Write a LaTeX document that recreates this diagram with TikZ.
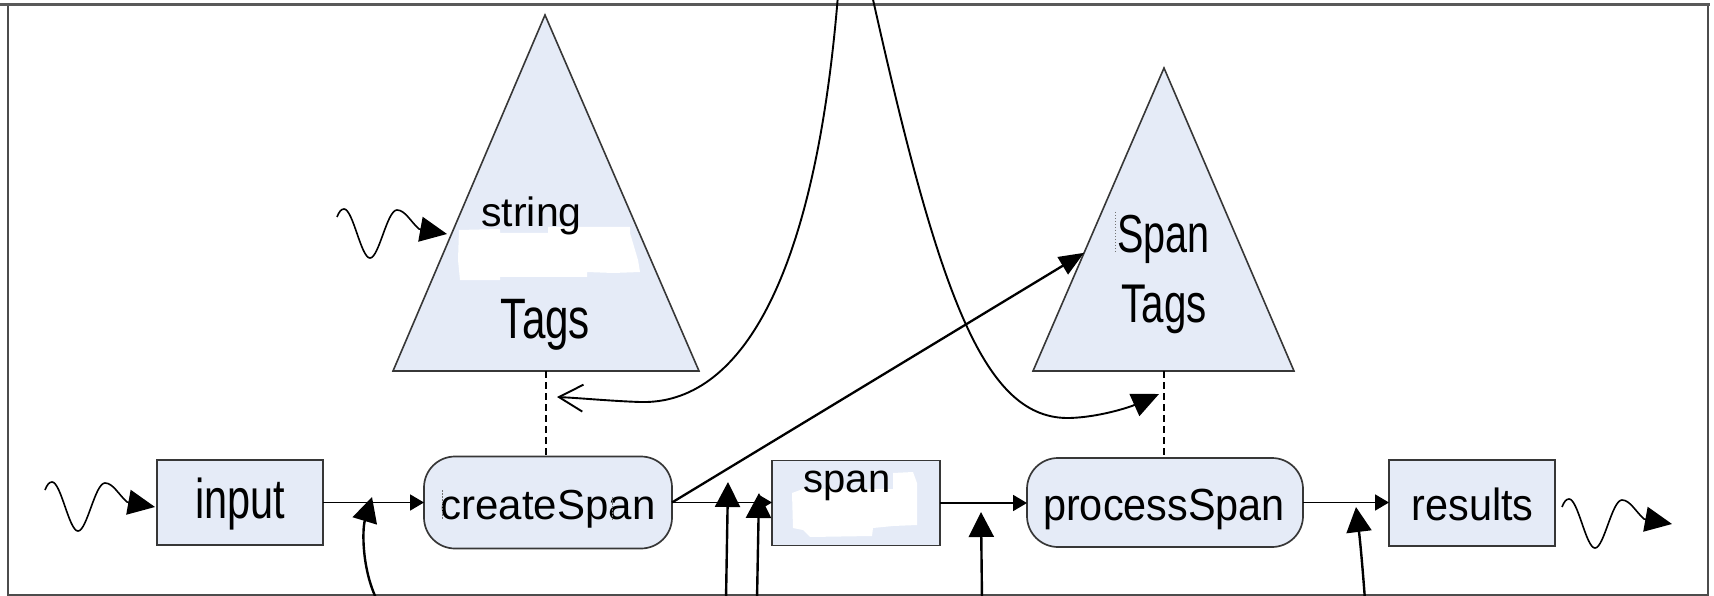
\documentclass[tikz,border=0pt]{standalone}
\usepackage{fontspec}
\setmainfont{Liberation Sans}
\newfontfamily\condA{Liberation Sans}[FakeStretch=0.74]
\newfontfamily\condB{Liberation Sans}[FakeStretch=0.92]
\usetikzlibrary{arrows.meta,calc}

\definecolor{boxfill}{RGB}{229,235,247}
\definecolor{boxline}{RGB}{55,55,55}

\tikzset{
  objbox/.style={rectangle, draw=boxline, fill=boxfill, line width=1.7pt,
    inner sep=0pt, outer sep=0pt},
  actbox/.style={objbox, rounded corners=31pt},
  tri/.style={draw=boxline, fill=boxfill, line width=1.6pt, line join=miter},
  flow/.style={line width=1.8pt, -{Triangle[length=14pt,width=16pt]}},
  feed/.style={line width=2.4pt, -{Triangle[length=25pt,width=25pt]}},
  tether/.style={line width=1.5pt, dash pattern=on 7pt off 4pt},
  wavy/.style={line width=1.6pt, line join=round, -{Triangle[length=27pt,width=25pt]}},
  lbl/.style={inner sep=0pt, anchor=base},
  glitch/.style={line width=0.8pt, black!55, dash pattern=on 1.5pt off 1.5pt},
  signal/.pic={
    \draw[wavy] (0,0) .. controls (2,-5) and (4,-8) .. (7,-8)
      .. controls (16,-8) and (24,41) .. (33,41)
      .. controls (42,41) and (50,-7) .. (60,-7)
      .. controls (68,-7) and (74,5) .. (82,12) -- (110,17);
  }
}

\begin{document}
\begin{tikzpicture}[x=1pt,y=-1pt]
\clip (0,0) rectangle (1714,596);

% frame
\draw[black!70, line width=1.5pt] (8,5) rectangle (1708,595);
\draw[black!65, line width=3pt] (0,5) -- (1710,5);

% tag trees
\coordinate (LA) at (545,15);
\coordinate (LL) at (393,371);
\coordinate (LR) at (699,371);
\coordinate (LB) at (546,371);
\coordinate (RA) at (1164,68);
\coordinate (RL) at (1033,371);
\coordinate (RR) at (1294,371);
\coordinate (RB) at (1164,371);
\filldraw[tri] (LL) -- (LA) -- (LR) -- cycle;
\filldraw[tri] (RL) -- (RA) -- (RR) -- cycle;

% erased patches
\fill[white] (459,230) -- (500,229) -- (500,233) -- (548,233) -- (548,227) -- (630,227)
  -- (630,233) -- (638,260) -- (640,272) -- (613,273) -- (587,272) -- (587,277)
  -- (500,277) -- (500,280) -- (460,280) -- (458,260) -- cycle;

% tag labels
\node[lbl, font=\fontsize{41}{44}\selectfont] (stringlbl) at (531.5,227) {string};
\node[lbl, font=\condA\fontsize{57}{60}\selectfont] (ltags) at (545.5,338) {Tags};
\node[lbl, font=\condA\fontsize{53.5}{56}\selectfont] (rspan) at (1163.5,253) {Span};
\node[lbl, font=\condA\fontsize{54.5}{56}\selectfont] (rtags) at (1164,322) {Tags};

% flow nodes
\node[objbox, minimum width=166pt, minimum height=85pt] (input) at (240,502.5) {};
\node[actbox, minimum width=248pt, minimum height=92pt] (create) at (548,502.5) {};
\node[objbox, minimum width=168pt, minimum height=85pt] (span) at (856,503) {};
\node[actbox, minimum width=276pt, minimum height=89pt] (process) at (1165,502.5) {};
\node[objbox, minimum width=166pt, minimum height=86pt] (results) at (1472,503) {};

\fill[white] (792,493) -- (803,489) -- (893,489) -- (893,473) -- (913,472) -- (917,483)
  -- (917,525) -- (893,526) -- (873,528) -- (872,536) -- (810,537) -- (803,530)
  -- (793,528) -- cycle;

\node[lbl, font=\condA\fontsize{56}{60}\selectfont] (inputlbl) at (240,518) {input};
\node[lbl, font=\fontsize{42}{44}\selectfont] (createlbl) at (548,519) {createSpan};
\node[lbl, font=\fontsize{40}{44}\selectfont] (spanlbl) at (847,492) {span};
\node[lbl, font=\condB\fontsize{45}{48}\selectfont] (processlbl) at (1164,520) {processSpan};
\node[lbl, font=\condB\fontsize{45}{48}\selectfont] (resultslbl) at (1472.5,520) {results};

\draw[glitch] (442,490) -- (442,520);
\draw[glitch] (612,497) -- (612,520);
\draw[glitch] (1115,212) -- (1115,253);

% links to the tag trees
\draw[tether] (LB) -- (LB |- create.north);
\draw[tether] (RB) -- (RB |- process.north);

% main flow
\draw[flow] (input.east) -- (create.west);
\draw[flow] (create.east) -- (create.east -| span.west);
\draw[flow] (span.east) -- (span.east -| process.west);
\draw[flow] (process.east) -- (process.east -| results.west);

% span into the span tags
\coordinate (RLhit) at ($(RL)!0.39!(RA)$);
\draw[line width=2.3pt, -{Triangle[length=25pt,width=20pt]}] (create.east) -- (RLhit);

% long curves from above
\coordinate (topA) at (838,-5);
\coordinate (lhook) at (557,397);
\draw[line width=1.9pt, -{Straight Barb[length=24pt,width=27pt]}]
  (topA) .. controls (815,280) and (740,405) .. (640,402)
  .. controls (610,401) and (580,398) .. (lhook);
\coordinate (topB) at (872,-5);
\coordinate (rhook) at (1159,394);
\draw[line width=1.9pt, -{Triangle[length=27pt,width=24pt]}]
  (topB) .. controls (940,300) and (985,420) .. (1070,418)
  .. controls (1100,417) and (1130,407) .. (rhook);

% feeds from below
\coordinate (fa) at (377,600); \coordinate (ta) at (372,497);
\coordinate (fb) at (726,600); \coordinate (tb) at (728,482);
\coordinate (fc) at (757,600); \coordinate (tc) at (759,493);
\coordinate (fd) at (982,600); \coordinate (td) at (981,512);
\coordinate (fe) at (1365,600); \coordinate (te) at (1356,507);
\draw[feed] (fa) .. controls (362,570) and (362,530) .. (ta);
\draw[feed] (fb) -- (tb);
\draw[feed] (fc) -- (tc);
\draw[feed] (fd) -- (td);
\draw[feed] (fe) .. controls (1362,560) and (1360,540) .. (te);

% signals
\pic at (45,490) {signal};
\pic at (337,217) {signal};
\pic at (1562,507) {signal};
\end{tikzpicture}
\end{document}
